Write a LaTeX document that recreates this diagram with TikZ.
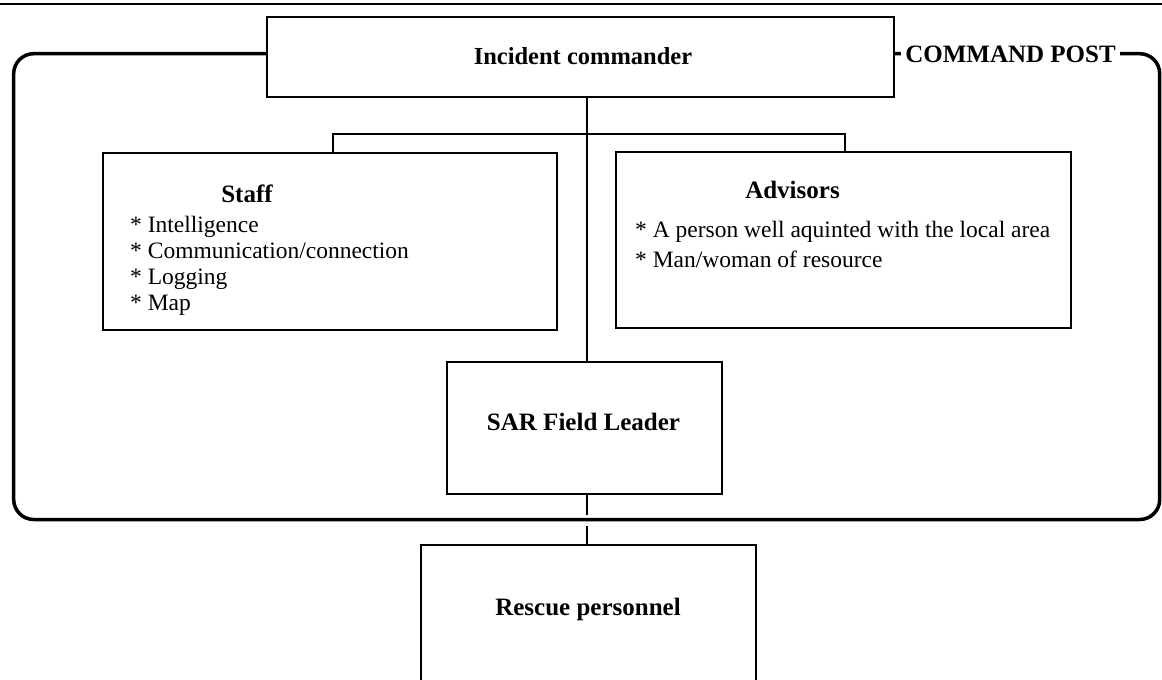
\documentclass[tikz,border=0pt]{standalone}
\usepackage{fontspec}
\setmainfont{Liberation Serif}
\begin{document}
\begin{tikzpicture}[x=1pt,y=-1pt,
  box/.style={draw, line width=2pt, fill=white, inner sep=0pt},
  txt/.style={font=\fontsize{23.5}{26}\selectfont, inner sep=0pt},
  head/.style={font=\fontsize{25}{28}\selectfont\bfseries, inner sep=0pt},
  link/.style={line width=2pt},
  post/.style={line width=3.5pt, rounded corners=20pt}]
\useasboundingbox (0,0) rectangle (1162,680);
\clip (0,0) rectangle (1162,680);

% rule along the top of the page
\draw[line width=1.2pt] (0,4) -- (1162,4);

% command post boundary
\draw[post] (13.7,53.7) rectangle (1159.7,519.5);

% guide coordinates for the trunk and the branch
\coordinate (tx) at (587,0);
\coordinate (bl) at (333,134);
\coordinate (br) at (845,134);

% boxes
\node[box, minimum width=627, minimum height=80] (ic) at (580.5,57) {};
\node[head, font=\fontsize{24.5}{28}\selectfont\bfseries] (ictext) at (583,56) {Incident commander};
\node[head, fill=white, inner xsep=4.5pt, inner ysep=3pt] (cp) at (1010.5,54) {COMMAND POST};

\node[box, minimum width=454, minimum height=177] (staff) at (330,241.5) {};
\node[box, minimum width=455, minimum height=176] (adv) at (843.5,240) {};
\node[box, minimum width=275, minimum height=132] (sar) at (584.5,428) {};
\node[box, minimum width=335, minimum height=170] (rescue) at (588.5,630) {};

% texts
\node[head, anchor=base] (stafft) at (247,202) {Staff};
\node[txt, anchor=base west] (s1) at (130,232) {* Intelligence};
\node[txt, anchor=base west] (s2) at (130,258) {* Communication/connection};
\node[txt, anchor=base west] (s3) at (130,284) {* Logging};
\node[txt, anchor=base west] (s4) at (130,310) {* Map};

\node[head, anchor=base] (advt) at (792.5,198) {Advisors};
\node[txt, anchor=base west] (a1) at (635,237) {* A person well aquinted with the local area};
\node[txt, anchor=base west] (a2) at (635,267) {* Man/woman of resource};

\node[head] (sart) at (583.5,422) {SAR Field Leader};
\node[head] (rescuet) at (588,609) {Rescue personnel};

% connectors
\draw[link] (ic.south -| tx) -- (sar.north -| tx);
\draw[link] (staff.north -| bl) -- (bl) -- (br) -- (adv.north -| br);
\draw[link, dash pattern=on 20pt off 11pt] (sar.south -| tx) -- (rescue.north -| tx);
\end{tikzpicture}
\end{document}
